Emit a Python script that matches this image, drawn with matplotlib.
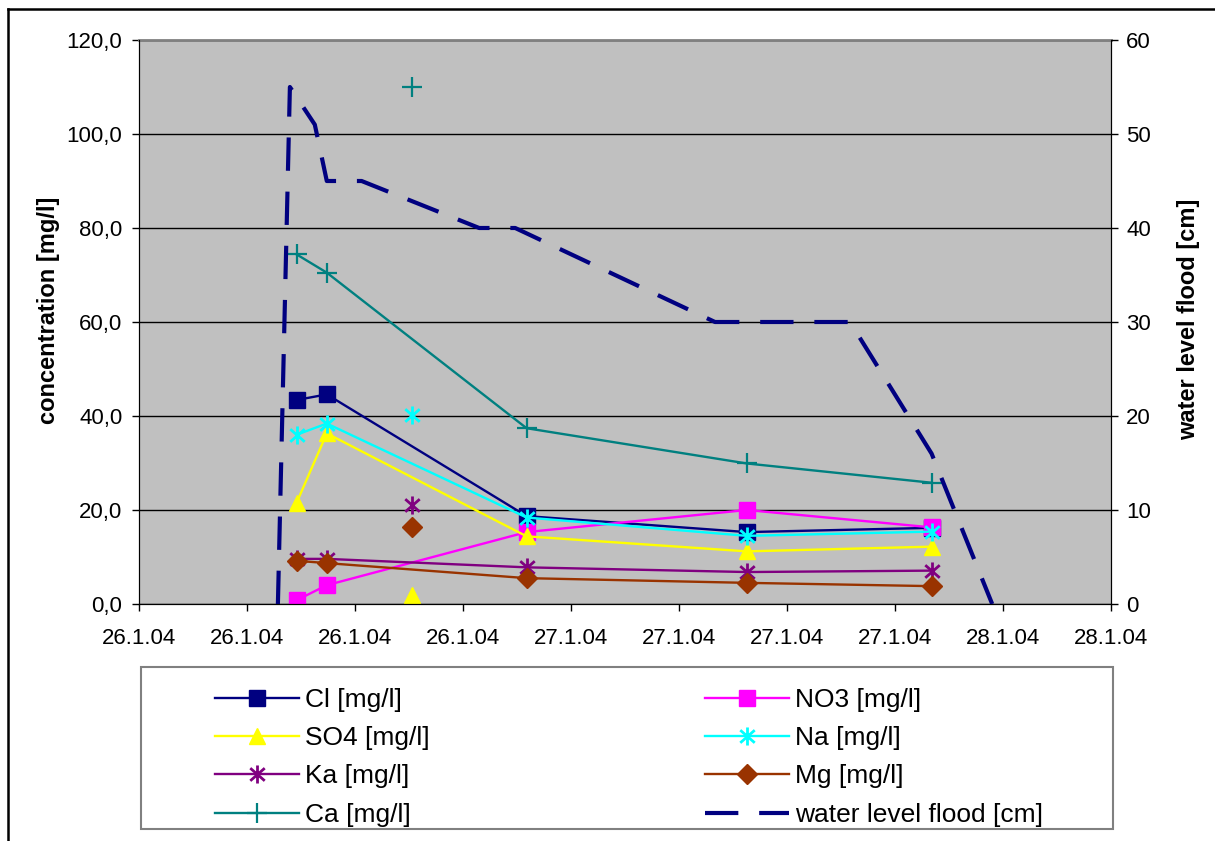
import matplotlib
matplotlib.use("Agg")
import matplotlib.pyplot as plt
import matplotlib.dates as mdates
from matplotlib.ticker import FuncFormatter, MultipleLocator
from matplotlib.path import Path
from matplotlib.lines import Line2D
from matplotlib.patches import Rectangle
from datetime import datetime

plt.rcParams['font.family'] = ['Liberation Sans', 'DejaVu Sans']

# sampling times of the flood series
sample_times = [datetime(2004, 1, 26, 8, 45), datetime(2004, 1, 26, 10, 26),
                datetime(2004, 1, 26, 21, 32), datetime(2004, 1, 27, 9, 46),
                datetime(2004, 1, 27, 20, 2)]

cl = [43.4, 44.6, 18.7, 15.3, 16.2]
no3 = [0.8, 4.0, 15.3, 20.0, 16.3]
so4 = [21.5, 36.3, 14.4, 11.2, 12.2]
na = [36.0, 38.4, 18.4, 14.5, 15.4]
ka = [9.6, 9.6, 7.8, 6.8, 7.1]
mg = [9.2, 8.7, 5.5, 4.5, 3.8]
ca = [74.4, 70.5, 37.4, 29.9, 25.8]

# single extra sample taken in the afternoon of 26.1.
extra_time = datetime(2004, 1, 26, 15, 9)
extra_ca = 110.0
extra_na = 40.3
extra_ka = 21.0
extra_mg = 16.4
extra_so4 = 2.0

# water level readings
level_times = [datetime(2004, 1, 26, 7, 43), datetime(2004, 1, 26, 8, 23),
               datetime(2004, 1, 26, 9, 46), datetime(2004, 1, 26, 10, 26),
               datetime(2004, 1, 26, 12, 22), datetime(2004, 1, 26, 18, 54),
               datetime(2004, 1, 26, 20, 54), datetime(2004, 1, 27, 8, 0),
               datetime(2004, 1, 27, 15, 30), datetime(2004, 1, 27, 20, 2),
               datetime(2004, 1, 27, 23, 24)]
level = [0, 55, 51, 45, 45, 40, 40, 30, 30, 16, 0]

# Excel style asterisk: vertical bar plus an x
asterisk = Path([(0, -1), (0, 1), (-0.8, -0.7), (0.8, 0.7), (-0.8, 0.7), (0.8, -0.7)],
                [Path.MOVETO, Path.LINETO, Path.MOVETO, Path.LINETO, Path.MOVETO, Path.LINETO])

W, H = 1215, 841
fig = plt.figure(figsize=(W / 100, H / 100), dpi=100)
ax = fig.add_axes([139 / W, 1 - 604 / H, 972 / W, 564 / H])
ax.set_facecolor('#C0C0C0')

lw = 1.7
h_cl, = ax.plot(sample_times, cl, color='#000080', lw=lw, marker='s', ms=11, label='Cl [mg/l]')
h_no3, = ax.plot(sample_times, no3, color='#FF00FF', lw=lw, marker='s', ms=11, label='NO3 [mg/l]')
h_so4, = ax.plot(sample_times, so4, color='#FFFF00', lw=lw, marker='^', ms=12, label='SO4 [mg/l]')
h_na, = ax.plot(sample_times, na, color='#00FFFF', lw=lw, marker=asterisk, ms=13, mew=2, label='Na [mg/l]')
h_ka, = ax.plot(sample_times, ka, color='#800080', lw=lw, marker=asterisk, ms=13, mew=2, label='Ka [mg/l]')
h_mg, = ax.plot(sample_times, mg, color='#993300', lw=lw, marker='D', ms=10, label='Mg [mg/l]')
h_ca, = ax.plot(sample_times, ca, color='#008080', lw=lw, marker='+', ms=14, mew=1.6, label='Ca [mg/l]')

ax.plot([extra_time], [extra_ca], ls='none', color='#008080', marker='+', ms=14, mew=1.6)
ax.plot([extra_time], [extra_na], ls='none', color='#00FFFF', marker=asterisk, ms=13, mew=2)
ax.plot([extra_time], [extra_ka], ls='none', color='#800080', marker=asterisk, ms=13, mew=2)
ax.plot([extra_time], [extra_mg], ls='none', color='#993300', marker='D', ms=10)
ax.plot([extra_time], [extra_so4], ls='none', color='#FFFF00', marker='^', ms=12)

ax.set_ylim(0, 120)
ax.yaxis.set_major_locator(MultipleLocator(20))
ax.yaxis.set_major_formatter(FuncFormatter(lambda v, p: f"{v:.1f}".replace('.', ',')))
ax.yaxis.grid(True, color='black', lw=1)
ax.set_axisbelow(True)

ax.set_xlim(datetime(2004, 1, 26), datetime(2004, 1, 28, 6))
ax.xaxis.set_major_locator(mdates.HourLocator(byhour=[0, 6, 12, 18]))


def day_label(v, p):
    d = mdates.num2date(v)
    return f"{d.day}.{d.month}.{d:%y}"


ax.xaxis.set_major_formatter(FuncFormatter(day_label))
ax.tick_params(axis='both', direction='out', length=5, width=1, labelsize=16, colors='black')
ax.tick_params(axis='x', pad=12)
ax.tick_params(axis='y', pad=7)
ax.set_ylabel('concentration [mg/l]', fontsize=17, fontweight='bold')
ax.yaxis.set_label_coords(-0.081, 0.52)

for s in ['left', 'bottom']:
    ax.spines[s].set_color('black')
ax.spines['top'].set_color('#808080')
ax.spines['top'].set_linewidth(2)

ax2 = ax.twinx()
h_lvl, = ax2.plot(level_times, level, color='#000080', lw=3, dashes=(8, 5),
                  label='water level flood [cm]')
ax2.set_ylim(0, 60)
ax2.yaxis.set_major_locator(MultipleLocator(10))
ax2.tick_params(axis='y', direction='out', length=5, width=1, labelsize=16, pad=6)
ax2.set_ylabel('water level flood [cm]', fontsize=17, fontweight='bold')
ax2.yaxis.set_label_coords(1.068, 0.505)
ax2.spines['top'].set_visible(False)

# legend: two columns inside a gray box under the plot
legend_style = dict(loc='upper left', frameon=False, borderpad=0, borderaxespad=0,
                    handlelength=3.2, handletextpad=0.2, labelspacing=0.54, fontsize=19)
fig.legend(handles=[h_cl, h_so4, h_ka, h_ca], bbox_to_anchor=(215 / W, 1 - 688 / H), **legend_style)
fig.legend(handles=[h_no3, h_na, h_mg, h_lvl], bbox_to_anchor=(705 / W, 1 - 688 / H), **legend_style)
fig.add_artist(Rectangle((141 / W, 1 - 829 / H), 972 / W, 162 / H, transform=fig.transFigure,
                         fill=False, edgecolor='#808080', lw=1.5))

# outer chart frame
fig.add_artist(Line2D([8 / W, 8 / W], [0, 1 - 9 / H], transform=fig.transFigure, color='black', lw=1.8))
fig.add_artist(Line2D([8 / W, 1], [1 - 9 / H, 1 - 9 / H], transform=fig.transFigure, color='black', lw=1.8))

fig.savefig('out.png', dpi=100)
